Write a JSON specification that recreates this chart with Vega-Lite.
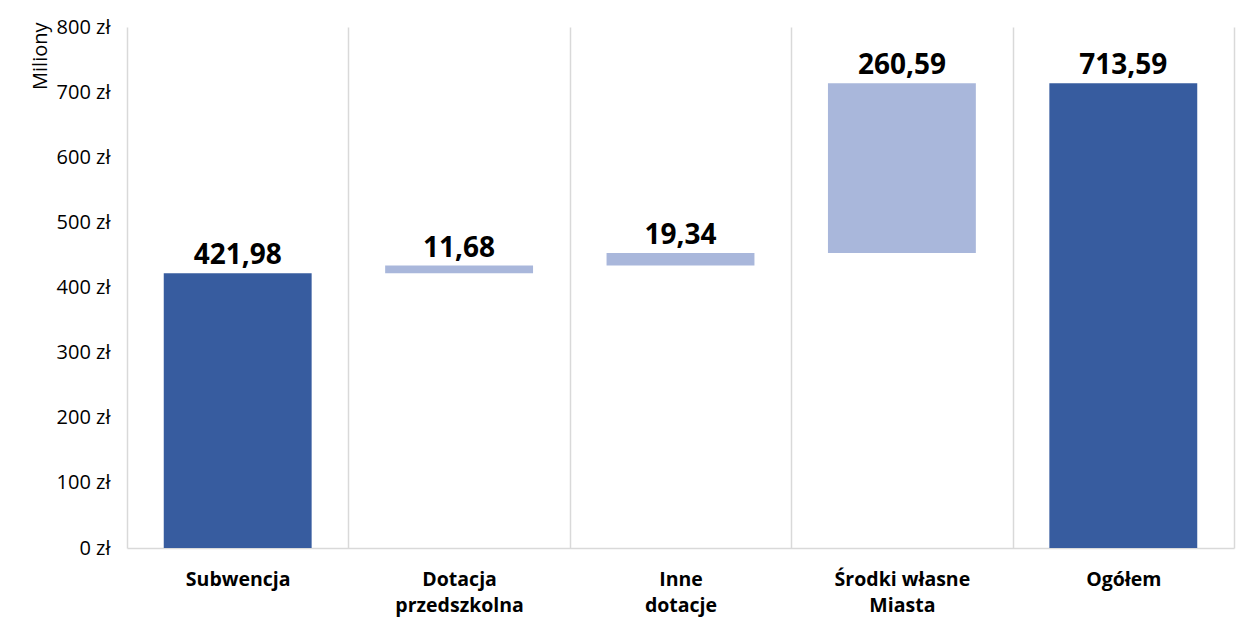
{
  "$schema": "https://vega.github.io/schema/vega-lite/v6.json",
  "width": 1107,
  "height": 521,
  "autosize": {"type": "none"},
  "padding": {"left": 127, "top": 27, "right": 5, "bottom": 85},
  "background": "white",
  "config": {
    "view": {"stroke": null},
    "font": "Open Sans"
  },
  "data": {
    "values": [
      {"category": "Subwencja", "start": 0, "end": 421.98, "label": "421,98", "type": "total"},
      {"category": "Dotacja przedszkolna", "start": 421.98, "end": 433.66, "label": "11,68", "type": "change"},
      {"category": "Inne dotacje", "start": 433.66, "end": 453.0, "label": "19,34", "type": "change"},
      {"category": "Środki własne Miasta", "start": 453.0, "end": 713.59, "label": "260,59", "type": "change"},
      {"category": "Ogółem", "start": 0, "end": 713.59, "label": "713,59", "type": "total"}
    ]
  },
  "encoding": {
    "x": {
      "field": "category",
      "type": "nominal",
      "sort": null,
      "scale": {"paddingInner": 0, "paddingOuter": 0},
      "axis": {
        "title": null,
        "tickBand": "extent",
        "ticks": false,
        "grid": true,
        "gridColor": "#d9d9d9",
        "gridWidth": 1.5,
        "domainColor": "#d9d9d9",
        "domainWidth": 1.5,
        "labelAngle": 0,
        "labelFont": "Open Sans",
        "labelFontWeight": "bold",
        "labelFontSize": 19.5,
        "labelColor": "#000000",
        "labelPadding": 22,
        "labelLineHeight": 26,
        "labelBaseline": "top",
        "labelExpr": "lastindexof(datum.label, ' ') > 0 ? [substring(datum.label, 0, lastindexof(datum.label, ' ')), substring(datum.label, lastindexof(datum.label, ' ') + 1)] : datum.label"
      }
    }
  },
  "layer": [
    {
      "mark": {"type": "bar", "width": {"band": 0.668}},
      "encoding": {
        "y": {
          "field": "start",
          "type": "quantitative",
          "scale": {"domain": [0, 800], "nice": false},
          "axis": {
            "title": "Miliony",
            "titleFont": "Open Sans",
            "titleFontWeight": "normal",
            "titleFontSize": 20,
            "titleColor": "#000000",
            "titleAngle": 270,
            "titleAnchor": "end",
            "titleAlign": "right",
            "titleBaseline": "middle",
            "titleX": -87,
            "titleY": -5,
            "values": [0, 100, 200, 300, 400, 500, 600, 700, 800],
            "labelExpr": "datum.value + ' zł'",
            "labelFont": "Open Sans",
            "labelFontSize": 20,
            "labelColor": "#000000",
            "labelPadding": 17,
            "ticks": false,
            "domain": false,
            "grid": false
          }
        },
        "y2": {"field": "end"},
        "color": {
          "field": "type",
          "type": "nominal",
          "scale": {"domain": ["total", "change"], "range": ["#375C9F", "#A9B7DB"]},
          "legend": null
        }
      }
    },
    {
      "mark": {"type": "text", "baseline": "bottom", "dy": -3, "font": "Open Sans", "fontWeight": "bold", "fontSize": 28, "color": "#000000"},
      "encoding": {
        "y": {"field": "end", "type": "quantitative"},
        "text": {"field": "label"}
      }
    }
  ]
}
